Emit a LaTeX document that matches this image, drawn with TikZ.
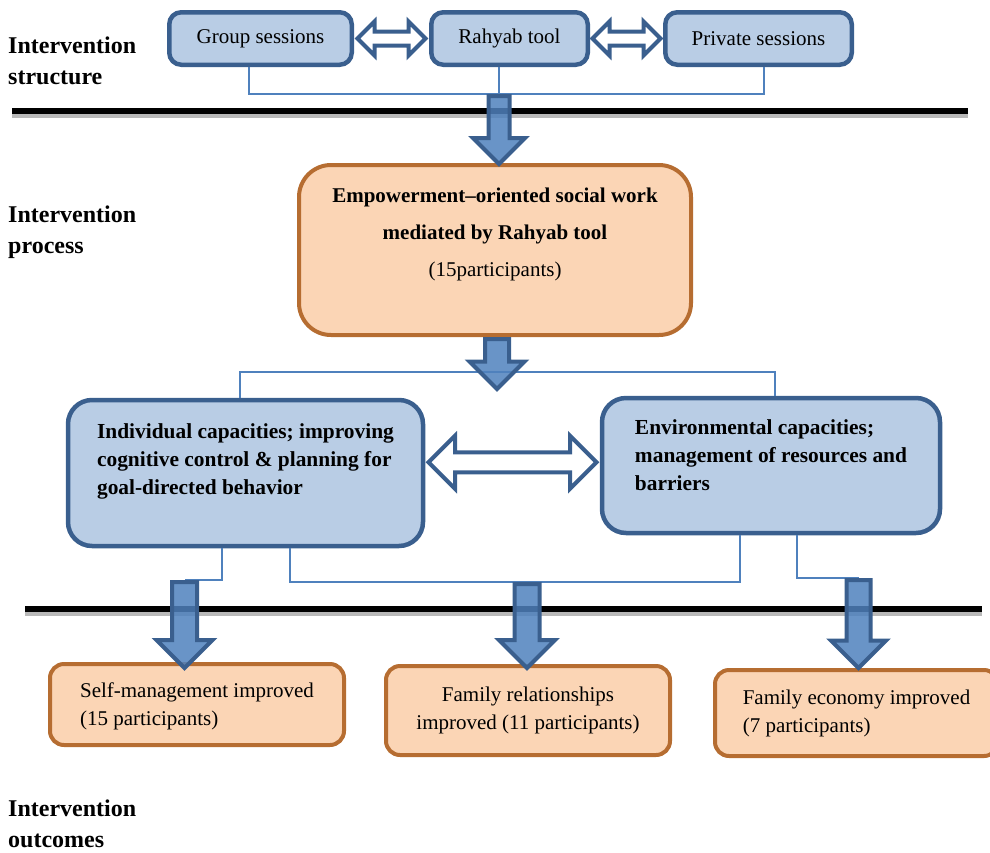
\documentclass[tikz,border=0pt]{standalone}
\usepackage{fontspec}
\setmainfont{Liberation Serif}
\usepackage{tikz}
\usetikzlibrary{shapes.arrows,calc}
\definecolor{boxfill}{HTML}{B9CDE5}
\definecolor{boxline}{HTML}{3A5F8E}
\definecolor{arrowfill}{HTML}{4F81BD}
\definecolor{peachfill}{HTML}{FBD5B5}
\definecolor{peachline}{HTML}{B66D31}

\begin{document}
\begin{tikzpicture}[x=1pt, y=-1pt, font=\fontsize{21}{28}\selectfont, node distance=249pt,
    bluebox/.style = {draw=boxline, fill=boxfill, line width=4.5pt, rounded corners=12pt},
    peach/.style = {draw=peachline, fill=peachfill, line width=4pt, rounded corners=14pt},
    link/.style = {draw=arrowfill, line width=1.5pt},
    down/.style = {single arrow, draw=boxline, fill=arrowfill, line width=4pt, single arrow head extend=15.5pt, shape border rotate=270, anchor=tail, fill opacity=0.85},
    both/.style = {double arrow, draw=boxline, fill=white, line width=4pt},
    side/.style = {font=\fontsize{24}{31}\selectfont\bfseries, align=left, anchor=west, inner sep=1pt}]
                \useasboundingbox (0,0) rectangle (990,852);
                \node[side] (l0) at (7,61) {Intervention\\structure};
                \node[side] (l1) at (7,232) {Intervention\\process};
                \node[side] (l2) at (7,824) {Intervention\\outcomes};
                \node[bluebox, minimum width=182.5pt, minimum height=52.5pt] (s0) at (260.5,38.5) {Group sessions};
                \node[bluebox, minimum width=156.5pt, minimum height=52.5pt] (s1) [right of=s0] {Rahyab tool};
                \node[bluebox, minimum width=186.5pt, minimum height=52.5pt] (s2) [right of=s1] {Private sessions};
                \node[both, inner sep=5pt, double arrow head extend=10pt, minimum height=68pt] (t0) at ($(s0.east)!0.5!(s1.west)$) {};
                \node[both, inner sep=5pt, double arrow head extend=10pt, minimum height=68pt] (t1) at ($(s1.east)!0.5!(s2.west)$) {};
                \node[peach, rounded corners=32pt, minimum width=392pt, minimum height=170pt, align=center, text depth=35pt, font=\fontsize{21}{37}\selectfont] (p0) at (495,250) {\textbf{Empowerment–oriented social work}\\\textbf{mediated by Rahyab tool}\\(15participants)};
                \node[bluebox, rounded corners=24pt, minimum width=355pt, minimum height=146pt, align=left, text depth=27pt, font=\fontsize{21.4}{28}\selectfont\bfseries] (c0) at (245.5,473) {Individual capacities; improving\\cognitive control \& planning for\\goal-directed behavior};
                \node[bluebox, rounded corners=24pt, minimum width=338pt, minimum height=135pt, align=left, text depth=20pt, font=\fontsize{21.4}{28}\selectfont\bfseries] (c1) at (771,465.5) {Environmental capacities;\\management of resources and\\barriers};
                \node[both, inner sep=8pt, double arrow head extend=16.5pt, minimum height=168pt, yshift=7pt] (t2) at ($(c0.east)!0.5!(c1.west)$) {};
                \node[peach, minimum width=294pt, minimum height=81pt, align=left, text depth=-3pt] (o0) at (197,704.5) {Self-management improved\\(15 participants)};
                \node[peach, minimum width=284pt, minimum height=89pt, align=center] (o1) at (528,710.5) {Family relationships\\improved (11 participants)};
                \node[peach, minimum width=283pt, minimum height=86pt, align=left] (o2) at (856.5,713) {Family economy improved\\(7 participants)};
                \coordinate (j0) at (499,94);
                \coordinate (j1) at (497,372);
                \coordinate (j2) at (184.5,580);
                \coordinate (j3) at (527,582);
                \coordinate (j4) at (858.5,578);
                \draw[link] ([xshift=-11.5pt]s0.south) |- (j0) -| ([xshift=5.5pt]s2.south);
                \draw[link] ([xshift=-10.5pt]s1.south) -- (j0);
                \draw[link] ([xshift=-5.5pt]c0.north) |- (j1) -| ([xshift=4pt]c1.north);
                \draw[link] ([xshift=-23.5pt]c0.south) |- (j2);
                \draw[link] ([xshift=44.5pt]c0.south) |- (j3) -| ([xshift=-31pt]c1.south);
                \draw[link] ([xshift=26pt]c1.south) |- (j4);
                \draw[gray!55, line width=4.5pt] (12,116) -- (968,116);
                \draw[line width=6pt] (12,111) -- (968,111);
                \draw[gray!55, line width=4.5pt] (25,614) -- (982,614);
                \draw[line width=6pt] (25,609) -- (982,609);
                \node[down, inner sep=8.5pt, minimum height=68pt] (a0) at (j0) {};
                \node[down, inner sep=10pt, minimum height=50pt] (a1) at (p0.south -| j1) {};
                \node[down, inner sep=10.5pt, minimum height=86pt] (a2) at (j2) {};
                \node[down, inner sep=10.5pt, minimum height=84pt] (a3) at (j3) {};
                \node[down, inner sep=10pt, minimum height=88pt] (a4) at (j4) {};
            \end{tikzpicture}
\end{document}
